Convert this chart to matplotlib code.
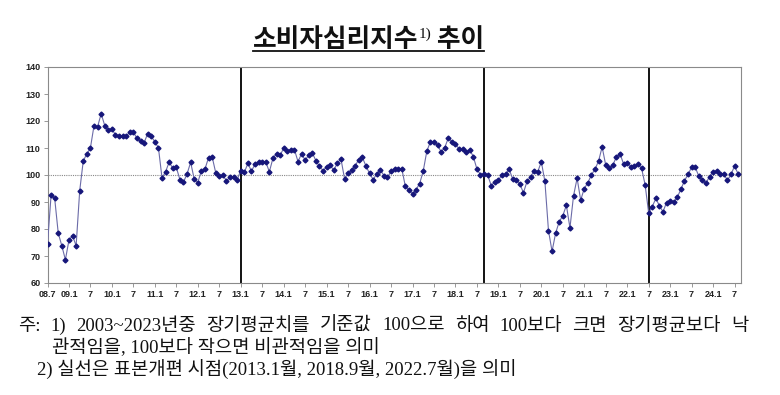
import numpy as np
import pandas as pd
import matplotlib
matplotlib.use("Agg")
import matplotlib.pyplot as plt

plt.rcParams['font.family'] = ['Noto Sans CJK KR', 'DejaVu Sans']

# monthly CCSI, 2008.7 ~ 2024.8
start = "2008-07"
ccsi = [
    74.4, 92.5, 91.4, 78.5, 73.8, 68.6,                                          # 2008.7-12
    75.9, 77.5, 73.8, 94.2, 105.3, 107.8, 110.1, 118.3, 117.9, 122.7, 118.3, 116.5,  # 2009
    117.2, 114.7, 114.3, 114.3, 114.3, 116.0, 115.9, 113.6, 112.5, 112.0, 115.3, 114.3,  # 2010
    112.3, 110.1, 98.9, 101.2, 104.8, 102.5, 102.8, 98.3, 97.4, 100.4, 104.7, 98.5,  # 2011
    97.2, 101.6, 102.2, 106.4, 106.8, 100.9, 99.6, 99.9, 97.9, 99.1, 99.3, 98.3,     # 2012
    101.6, 101.0, 104.3, 101.4, 104.1, 104.8, 104.8, 104.8, 101.2, 106.2, 107.9, 107.3,  # 2013
    109.9, 108.8, 109.4, 109.4, 105.0, 107.8, 105.5, 107.3, 108.2, 105.3, 103.2, 101.6,  # 2014
    103.0, 103.6, 101.8, 104.4, 106.0, 98.7, 100.6, 102.0, 103.5, 105.7, 106.5, 103.3,  # 2015
    100.6, 98.3, 100.4, 102.0, 99.8, 99.1, 101.4, 102.3, 102.3, 102.4, 95.8, 94.4,   # 2016
    93.1, 94.6, 96.8, 101.5, 108.8, 112.3, 112.3, 111.0, 108.6, 110.1, 113.7, 112.3,  # 2017
    111.6, 109.6, 109.6, 108.5, 109.3, 106.8, 102.2, 100.1, 100.2, 100.0, 96.1, 97.4,  # 2018
    98.0, 100.1, 100.2, 102.2, 98.5, 98.3, 96.7, 93.4, 97.6, 99.3, 101.6, 101.2,     # 2019
    104.9, 97.6, 79.4, 71.7, 78.5, 82.7, 84.9, 88.8, 80.4, 92.3, 98.8, 90.7,         # 2020
    95.0, 97.1, 100.1, 102.1, 105.2, 110.4, 103.6, 102.5, 103.7, 106.8, 107.9, 104.0,  # 2021
    104.6, 103.1, 103.4, 103.9, 102.6, 96.4, 85.9, 88.3, 91.3, 88.6, 86.4, 89.8,     # 2022
    90.3, 89.9, 91.8, 94.7, 97.9, 100.2, 102.9, 102.9, 99.6, 98.0, 97.0, 99.4,       # 2023
    101.2, 101.5, 100.4, 100.4, 98.0, 100.2, 103.3, 100.4,                           # 2024.1-8
]

tick_labels = ["08.7", "09.1", "7", "10.1", "7", "11.1", "7", "12.1", "7", "13.1", "7",
               "14.1", "7", "15.1", "7", "16.1", "7", "17.1", "7", "18.1", "7", "19.1",
               "7", "20.1", "7", "21.1", "7", "22.1", "7", "23.1", "7", "24.1", "7"]

# sample redesign points
break_months = ["2013-01", "2018-09", "2022-07"]

title_main = "소비자심리지수"
title_sup = "1)"
title_tail = " 추이"
note1 = "주: 1) 2003~2023년중 장기평균치를 기준값 100으로 하여 100보다 크면 장기평균보다 낙"
note2 = "관적임을, 100보다 작으면 비관적임을 의미"
note3 = "2) 실선은 표본개편 시점(2013.1월, 2018.9월, 2022.7월)을 의미"

months = pd.period_range(start, periods=len(ccsi), freq="M")
x = np.arange(len(ccsi))

W, H = 780, 395
fig = plt.figure(figsize=(W / 100, H / 100), dpi=100)
ax = fig.add_axes([47.5 / W, 1 - 283 / H, (741 - 47.5) / W, (283 - 67) / H])

ax.axhline(100, color="#888888", linestyle=(0, (1, 1)), linewidth=0.8, zorder=1)
for m in break_months:
    ax.axvline(list(months).index(pd.Period(m, freq="M")), color="black", linewidth=1.3, zorder=2)

ax.plot(x, ccsi, color="#6b6ba8", linewidth=0.8, marker="D", markersize=2.5,
        markerfacecolor="#16167a", markeredgecolor="#16167a", zorder=3)

ax.set_xlim(0, len(ccsi) - 0.2)
ax.set_ylim(60, 140)
ax.set_yticks(np.arange(60, 141, 10))
ax.set_xticks(np.arange(0, len(ccsi), 6))
ax.set_xticklabels(tick_labels)
ax.tick_params(axis="both", labelsize=6.5, length=3, width=0.6, color="#888888",
               labelcolor="#222222", pad=2)
for lbl in ax.get_xticklabels() + ax.get_yticklabels():
    lbl.set_fontweight("bold")
    lbl.set_family("Liberation Sans")
for s in ax.spines.values():
    s.set_color("#8a8a8a")
    s.set_linewidth(0.8)

# title with superscript and underline
fig.canvas.draw()
r = fig.canvas.get_renderer()
tx = 253
ty = 1 - 47 / H
t1 = fig.text(tx / W, ty, title_main, fontsize=18.5, fontweight="bold", color="#111111")
x1 = t1.get_window_extent(r).x1
t2 = fig.text(x1 / W, ty + 9 / H, title_sup, fontsize=11, family="Liberation Serif", color="#111111")
x2 = t2.get_window_extent(r).x1
t3 = fig.text(x2 / W, ty, title_tail, fontsize=18.5, fontweight="bold", color="#111111")
x3 = t3.get_window_extent(r).x1
fig.add_artist(plt.Line2D([tx / W, x3 / W], [1 - 51 / H] * 2, color="#111111", linewidth=1.3))

# footnotes
note_font = dict(fontsize=13.5, family=["Liberation Serif", "Noto Sans CJK KR"], color="#111111",
                 va="center")
words = note1.split(" ")
wt = [fig.text(0, 0, w, **note_font) for w in words]
widths = [t.get_window_extent(r).width for t in wt]
gap = (748 - 18 - sum(widths)) / (len(words) - 1)
pos = 18
for t, w in zip(wt, widths):
    t.set_position((pos / W, 1 - 326 / H))
    pos += w + gap
fig.text(52 / W, 1 - 348 / H, note2, **note_font)
fig.text(37 / W, 1 - 370 / H, note3, **note_font)

fig.savefig("out.png", dpi=100)
